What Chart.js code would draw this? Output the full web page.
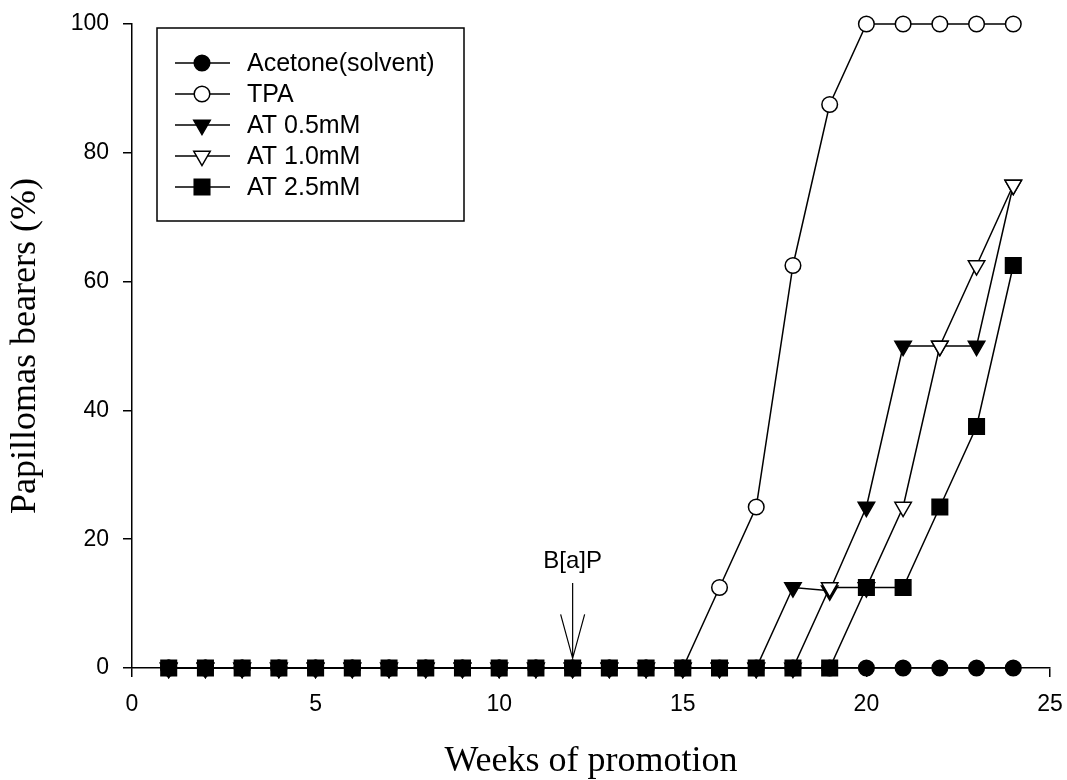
<!DOCTYPE html>
<html>
<head>
<meta charset="utf-8">
<script src="https://cdn.jsdelivr.net/npm/chart.js@4.4.1/dist/chart.umd.min.js"></script>
<style>
  html, body { margin: 0; background: #fff; overflow: hidden; }
  #wrap { width: 1067px; height: 780px; }
  canvas { display: block; }
</style>
</head>
<body>
<div id="wrap"><canvas id="papilloma-chart"></canvas></div>
<script>
// weeks of promotion and % of mice with papillomas
const weeks = [1, 2, 3, 4, 5, 6, 7, 8, 9, 10, 11, 12, 13, 14, 15, 16, 17, 18, 19, 20, 21, 22, 23, 24]
const acetone = [0, 0, 0, 0, 0, 0, 0, 0, 0, 0, 0, 0, 0, 0, 0, 0, 0, 0, 0, 0, 0, 0, 0, 0]
const tpa = [0, 0, 0, 0, 0, 0, 0, 0, 0, 0, 0, 0, 0, 0, 0, 12.5, 25, 62.5, 87.5, 100, 100, 100, 100, 100]
const at05 = [0, 0, 0, 0, 0, 0, 0, 0, 0, 0, 0, 0, 0, 0, 0, 0, 0, 12.5, 12, 25, 50, 50, 50, 75]
const at10 = [0, 0, 0, 0, 0, 0, 0, 0, 0, 0, 0, 0, 0, 0, 0, 0, 0, 0, 12.5, 12.5, 25, 50, 62.5, 75]
const at25 = [0, 0, 0, 0, 0, 0, 0, 0, 0, 0, 0, 0, 0, 0, 0, 0, 0, 0, 0, 12.5, 12.5, 25, 37.5, 62.5]

const seriesNames = ['Acetone(solvent)', 'TPA', 'AT 0.5mM', 'AT 1.0mM', 'AT 2.5mM']
const xTicks = [0, 5, 10, 15, 20, 25]
const yTicks = [0, 20, 40, 60, 80, 100]

// B[a]P arrow at week 12
const arrowWeek = 12
const arrowTail = 13.2
const arrowTip = 1.5
const arrowText = 'B[a]P'
const arrowTextAt = 15.5

const markers = [
    { style: 'circle', fill: '#000', radius: 7.8, rotation: 0 },
    { style: 'circle', fill: '#fff', radius: 7.8, rotation: 0 },
    { style: 'triangle', fill: '#000', radius: 9.5, rotation: 180 },
    { style: 'triangle', fill: '#fff', radius: 9.5, rotation: 180 },
    { style: 'rect', fill: '#000', radius: 11, rotation: 0 }
]

const sans = "'Liberation Sans', Arial, sans-serif"
const serif = "'Liberation Serif', 'Times New Roman', serif"

function toPoints(values) {
    return weeks.map((w, i) => ({ x: w, y: values[i] }))
}

function makeDataset(i, values) {
    const m = markers[i]
    return {
        label: seriesNames[i],
        data: toPoints(values),
        borderColor: '#000',
        borderWidth: 1.5,
        tension: 0,
        fill: false,
        pointStyle: m.style,
        pointRadius: m.radius,
        pointRotation: m.rotation,
        pointBackgroundColor: m.fill,
        pointBorderColor: '#000',
        pointBorderWidth: 1.5,
        clip: false,
        order: 5 - i   // later series sit on top, as in the original plot
    }
}

const arrowPlugin = {
    id: 'bapArrow',
    afterDatasetsDraw(chart) {
        const ctx = chart.ctx
        const x = chart.scales.x.getPixelForValue(arrowWeek)
        const yTail = chart.scales.y.getPixelForValue(arrowTail)
        const yTip = chart.scales.y.getPixelForValue(arrowTip)
        const yText = chart.scales.y.getPixelForValue(arrowTextAt)
        ctx.save()
        ctx.strokeStyle = '#000'
        ctx.lineWidth = 1.2
        ctx.beginPath()
        ctx.moveTo(x, yTail)
        ctx.lineTo(x, yTip)
        ctx.moveTo(x - 12, yTip - 44)
        ctx.lineTo(x, yTip)
        ctx.lineTo(x + 12, yTip - 44)
        ctx.stroke()
        ctx.fillStyle = '#000'
        ctx.font = '24px ' + sans
        ctx.textAlign = 'center'
        ctx.textBaseline = 'alphabetic'
        ctx.fillText(arrowText, x, yText)
        ctx.restore()
    }
}

const legendPlugin = {
    id: 'boxLegend',
    afterDraw(chart) {
        const ctx = chart.ctx
        const left = chart.chartArea.left + 25
        const top = chart.chartArea.top + 4
        ctx.save()
        ctx.strokeStyle = '#000'
        ctx.lineWidth = 1.5
        ctx.strokeRect(left, top, 307, 193)
        ctx.font = '25px ' + sans
        ctx.textBaseline = 'middle'
        ctx.textAlign = 'left'
        seriesNames.forEach((name, i) => {
            const m = markers[i]
            const y = top + 35 + i * 31
            ctx.strokeStyle = '#000'
            ctx.lineWidth = 1.5
            ctx.beginPath()
            ctx.moveTo(left + 18, y)
            ctx.lineTo(left + 73, y)
            ctx.stroke()
            ctx.fillStyle = m.fill
            Chart.helpers.drawPoint(ctx, {
                pointStyle: m.style,
                radius: m.radius,
                rotation: m.rotation,
                borderWidth: 1.5
            }, left + 45, y)
            ctx.fillStyle = '#000'
            ctx.fillText(name, left + 90, y + 1)
        })
        ctx.restore()
    }
}

const ctxChart = document.getElementById('papilloma-chart').getContext('2d')

new Chart(ctxChart, {
    type: 'line',
    data: {
        datasets: [
            makeDataset(0, acetone),
            makeDataset(1, tpa),
            makeDataset(2, at05),
            makeDataset(3, at10),
            makeDataset(4, at25)
        ]
    },
    options: {
        responsive: true,
        maintainAspectRatio: false,
        animation: false,
        events: [],
        layout: { padding: { left: 0, right: 17, top: 24, bottom: 0 } },
        plugins: {
            legend: { display: false },
            tooltip: { enabled: false }
        },
        scales: {
            x: {
                type: 'linear',
                min: 0,
                max: 25,
                afterFit: (scale) => {
                    scale.height = 112
                    scale.paddingLeft = 0
                    scale.paddingRight = 0
                },
                afterBuildTicks: (scale) => { scale.ticks = xTicks.map(v => ({ value: v })) },
                grid: { drawOnChartArea: false, drawTicks: true, tickLength: 9, color: '#000', lineWidth: 1.5 },
                border: { display: true, color: '#000', width: 1.5 },
                ticks: { color: '#000', padding: 14, font: { family: sans, size: 23 } },
                title: {
                    display: true,
                    text: 'Weeks of promotion',
                    color: '#000',
                    font: { family: serif, size: 36, lineHeight: 1 },
                    padding: { top: 1, bottom: 0 }
                }
            },
            y: {
                type: 'linear',
                min: 0,
                max: 100,
                afterFit: (scale) => {
                    scale.width = 132
                    scale.paddingTop = 0
                    scale.paddingBottom = 0
                },
                afterBuildTicks: (scale) => { scale.ticks = yTicks.map(v => ({ value: v })) },
                grid: { drawOnChartArea: false, drawTicks: true, tickLength: 9, color: '#000', lineWidth: 1.5 },
                border: { display: true, color: '#000', width: 1.5 },
                ticks: { color: '#000', padding: 14, font: { family: sans, size: 23 } },
                title: {
                    display: true,
                    text: 'Papillomas bearers (%)',
                    color: '#000',
                    font: { family: serif, size: 36, lineHeight: 1 },
                    padding: { top: 8, bottom: 0 }
                }
            }
        }
    },
    plugins: [arrowPlugin, legendPlugin]
})
</script>
</body>
</html>
